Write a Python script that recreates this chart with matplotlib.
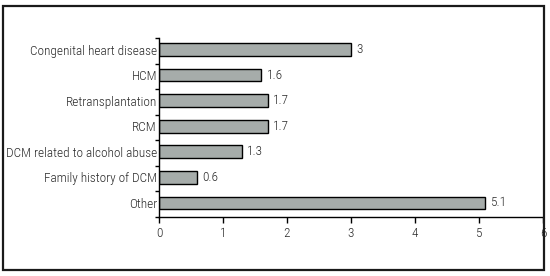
import matplotlib
matplotlib.use('Agg')
import matplotlib.pyplot as plt
from matplotlib.patches import Rectangle
import numpy as np

categories = ['Congenital heart disease', 'HCM', 'Retransplantation', 'RCM',
              'DCM related to alcohol abuse', 'Family history of DCM', 'Other']
values = [3, 1.6, 1.7, 1.7, 1.3, 0.6, 5.1]
value_labels = ['3', '1.6', '1.7', '1.7', '1.3', '0.6', '5.1']
xticks = [0, 1, 2, 3, 4, 5, 6]

plt.rcParams['font.family'] = ['Roboto Condensed', 'DejaVu Sans']
plt.rcParams['font.weight'] = 'light'
plt.rcParams['font.size'] = 9.5
text_color = '#2a2a2a'

fig = plt.figure(figsize=(5.5, 2.76), dpi=100)
ax = fig.add_axes([159/550, 1 - 217/276, 384/550, 179/276])

y = np.arange(len(categories))
ax.barh(y - 0.05, values, height=0.5, color='#a6acaa', edgecolor='black', linewidth=1)

for yi, v, lab in zip(y, values, value_labels):
    ax.text(v + 0.08, yi - 0.05, lab, va='center', ha='left', color=text_color)

ax.set_xlim(0, 6)
ax.set_ylim(len(categories) - 0.5, -0.5)
ax.set_xticks(xticks)
ax.set_xticklabels([str(t) for t in xticks], color=text_color)
ax.set_yticks(y - 0.05)
ax.set_yticklabels(categories, color=text_color)
ax.set_yticks(np.arange(len(categories) + 1) - 0.5, minor=True)

ax.tick_params(axis='y', which='major', length=0, pad=1.5)
ax.tick_params(axis='y', which='minor', length=3, width=1, direction='out')
ax.tick_params(axis='x', length=4.5, width=1, direction='out', pad=2.5)

for s in ['top', 'right']:
    ax.spines[s].set_visible(False)
for s in ['left', 'bottom']:
    ax.spines[s].set_linewidth(1)

fig.patches.append(Rectangle((3/550, 6/276), 541/550, 264/276, transform=fig.transFigure,
                             fill=False, edgecolor='#1a1a1a', linewidth=1.6, zorder=10))

fig.savefig('out.png', dpi=100)
